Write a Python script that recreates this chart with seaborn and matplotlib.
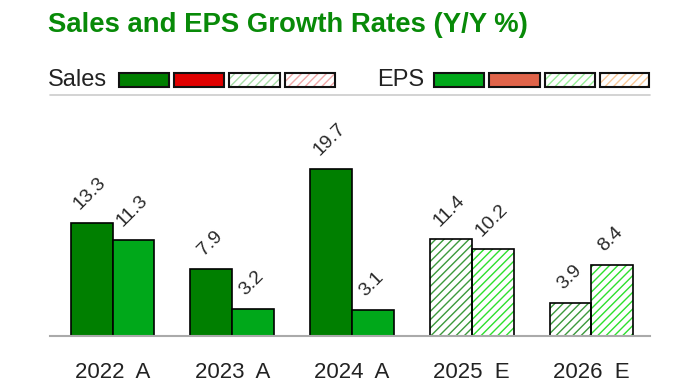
import matplotlib
matplotlib.use("Agg")
import matplotlib.pyplot as plt
from matplotlib.patches import Rectangle
import seaborn as sns
import pandas as pd

periods = ["2022  A", "2023  A", "2024  A", "2025  E", "2026  E"]
sales = [13.3, 7.9, 19.7, 11.4, 3.9]
eps = [11.3, 3.2, 3.1, 10.2, 8.4]
is_estimate = [False, False, False, True, True]
sales_labels = ["13.3", "7.9", "19.7", "11.4", "3.9"]
eps_labels = ["11.3", "3.2", "3.1", "10.2", "8.4"]

SALES_C = "#007F00"
EPS_C = "#00A81A"
SALES_HATCH = "#3C9A3C"
EPS_HATCH = "#2EE02E"

df = pd.DataFrame({
    "period": periods * 2,
    "value": sales + eps,
    "metric": ["Sales"] * len(periods) + ["EPS"] * len(periods),
})

sns.set_theme(style="white")
plt.rcParams["font.family"] = ["Liberation Sans", "DejaVu Sans"]
plt.rcParams["hatch.linewidth"] = 1.0

W, H = 700, 387
fig = plt.figure(figsize=(W / 100, H / 100), dpi=100)
ax = fig.add_axes([50 / W, 1 - 336 / H, 600 / W, 236 / H])

sns.barplot(data=df, x="period", y="value", hue="metric",
            palette={"Sales": SALES_C, "EPS": EPS_C}, width=0.7, gap=0,
            order=periods, hue_order=["Sales", "EPS"], legend=False,
            edgecolor="black", linewidth=1.2, saturation=1, ax=ax)

n = len(periods)
bars = list(ax.patches)
labels = sales_labels + eps_labels
hatch_cols = [SALES_HATCH] * n + [EPS_HATCH] * n
for i, p in enumerate(bars):
    est = is_estimate[i % n]
    if est:
        p.set_facecolor("white")
        p.set_hatch("////")
        p.set_edgecolor(hatch_cols[i])
        p.set_linewidth(0)
        outline = Rectangle(p.get_xy(), p.get_width(), p.get_height(),
                            facecolor="none", edgecolor="black", linewidth=1.2,
                            zorder=p.get_zorder() + 0.1)
        ax.add_patch(outline)
    x = p.get_x() + p.get_width() / 2
    y = p.get_height()
    ax.annotate(labels[i], (x, y), xytext=(-1, 7), textcoords="offset points",
                rotation=45, ha="center", va="bottom", fontsize=14,
                color="#2A2A2A")

ax.set_xlim(-0.522, 4.489)
ax.set_ylim(0, 27.76)
for s in ["top", "right", "left"]:
    ax.spines[s].set_visible(False)
ax.spines["bottom"].set_color("#AAAAAA")
ax.spines["bottom"].set_linewidth(1.5)
ax.set_yticks([])
ax.set_xlabel("")
ax.set_ylabel("")
ax.tick_params(axis="x", length=0, pad=19, labelsize=16, labelcolor="#222222")

# Title
fig.text(48 / W, 1 - 25 / H, "Sales and EPS Growth Rates (Y/Y %)",
         fontsize=19.8, fontweight="bold", color="#088A08", ha="left", va="center")

# Legend row
fig.text(48 / W, 1 - 80 / H, "Sales", fontsize=17, color="#222222",
         ha="left", va="center")
fig.text(377 / W, 1 - 80 / H, "EPS", fontsize=17, color="#222222",
         ha="left", va="center")

def legend_box(x0, x1, face, hatch_color=None):
    y0, y1 = 73, 87
    if hatch_color is None:
        r = Rectangle((x0 / W, 1 - y1 / H), (x1 - x0) / W, (y1 - y0) / H,
                      transform=fig.transFigure, facecolor=face,
                      edgecolor="#111111", linewidth=1.5)
        fig.patches.append(r)
    else:
        r = Rectangle((x0 / W, 1 - y1 / H), (x1 - x0) / W, (y1 - y0) / H,
                      transform=fig.transFigure, facecolor="white",
                      edgecolor=hatch_color, linewidth=0, hatch="////")
        fig.patches.append(r)
        r2 = Rectangle((x0 / W, 1 - y1 / H), (x1 - x0) / W, (y1 - y0) / H,
                       transform=fig.transFigure, facecolor="none",
                       edgecolor="#111111", linewidth=1.5)
        fig.patches.append(r2)

legend_box(119, 169, SALES_C)
legend_box(174, 224, "#E00000")
legend_box(229, 280, None, "#A8DCA8")
legend_box(285, 335, None, "#F0A8A8")
legend_box(434, 484, EPS_C)
legend_box(489, 540, "#E0644A")
legend_box(545, 595, None, "#98EE98")
legend_box(600, 649, None, "#F8C898")

fig.add_artist(plt.Line2D([50 / W, 650 / W], [1 - 95 / H, 1 - 95 / H],
                          transform=fig.transFigure, color="#CCCCCC", linewidth=1.2))

fig.savefig("out.png", dpi=100)
